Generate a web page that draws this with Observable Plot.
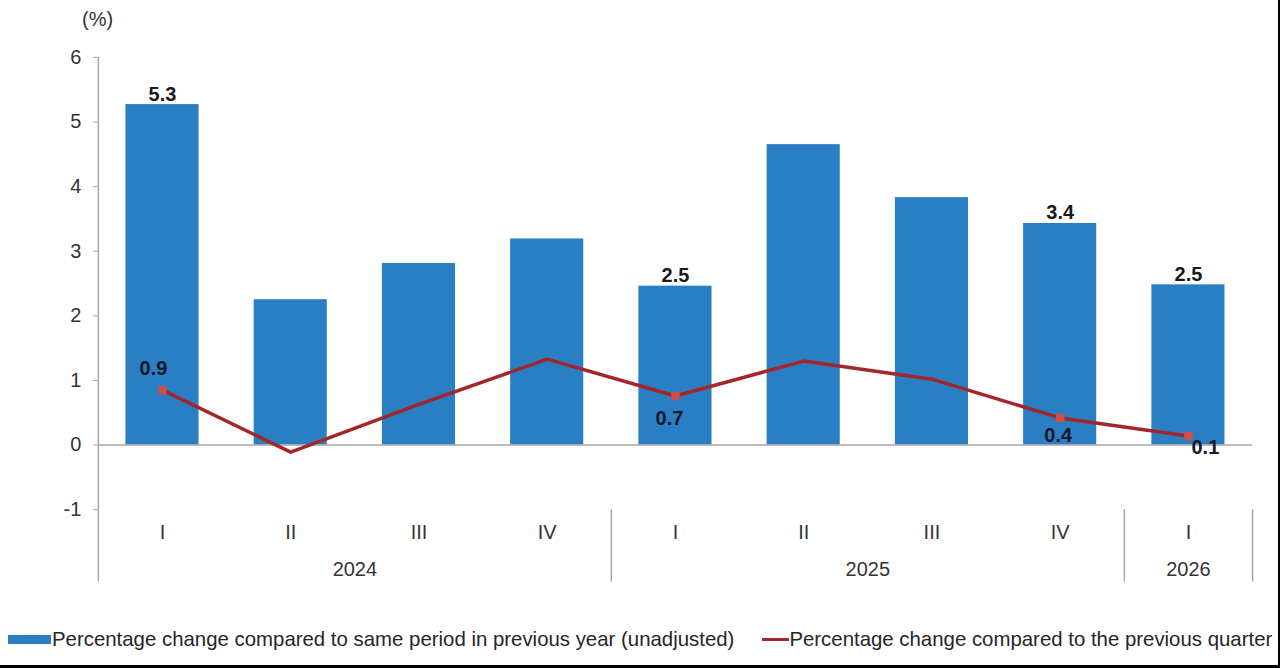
<!DOCTYPE html>
<html>
<head>
<meta charset="utf-8">
<script src="https://cdn.jsdelivr.net/npm/d3@7"></script>
<script src="https://cdn.jsdelivr.net/npm/@observablehq/plot@0.6"></script>
<style>
  html, body { margin: 0; padding: 0; background: #fff; }
  #frame { position: relative; width: 1280px; height: 668px; box-sizing: border-box; border-right: 2px solid #000; border-bottom: 3px solid #000; overflow: hidden; font-family: "Liberation Sans", Arial, sans-serif; }
  #chart { position: absolute; left: 0; top: 0; }
  #unit { position: absolute; left: 82px; top: 8px; font-size: 20px; color: #333; }
  #legend { position: absolute; left: 8px; top: 628px; font-size: 20.4px; color: #262626; display: flex; align-items: center; white-space: nowrap; }
  .sw-bar { display: inline-block; width: 43px; height: 9px; background: #2a7ec3; margin-right: 1px; }
  .sw-line { display: inline-block; width: 27px; height: 3px; background: #a3262b; margin-left: 28px; margin-right: 0px; }
</style>
</head>
<body>
<div id="frame">
  <div id="chart"></div>
  <div id="unit">(%)</div>
  <div id="legend"><span class="sw-bar"></span><span>Percentage change compared to same period in previous year (unadjusted)</span><span class="sw-line"></span><span>Percentage change compared to the previous quarter</span></div>
</div>
<script>
// Data
const quarters = ["I", "II", "III", "IV", "I", "II", "III", "IV", "I"];
const years = ["2024", "2024", "2024", "2024", "2025", "2025", "2025", "2025", "2026"];
const annualChange = [5.27, 2.25, 2.81, 3.19, 2.46, 4.65, 3.83, 3.43, 2.48];
const quarterlyChange = [0.85, -0.11, 0.63, 1.33, 0.76, 1.30, 1.02, 0.42, 0.14];
const annualLabels = ["5.3", null, null, null, "2.5", null, null, "3.4", "2.5"];
const quarterlyLabels = ["0.9", null, null, null, "0.7", null, null, "0.4", "0.1"];
const yTicks = [-1, 0, 1, 2, 3, 4, 5, 6];
const yearGroups = ["2024", "2025", "2026"];

const keys = quarters.map((q, i) => years[i] + " " + q);
const rows = keys.map((k, i) => ({
  key: k, q: quarters[i], year: years[i],
  annual: annualChange[i], quarterly: quarterlyChange[i],
  aLabel: annualLabels[i], qLabel: quarterlyLabels[i]
}));

const W = 1280, H = 610, ML = 98, MR = 26, MT = 57, MB = 100;
const step = (W - ML - MR) / keys.length;
const FS = 20;

const axisColor = "#a6a6a6";
const textColor = "#333333";
const lineColor = "#a3262b";
const markerColor = "#c9504b";
const barColor = "#2a7ec3";
const font = "Liberation Sans, Arial, sans-serif";

// year group labels, centered over their quarters
const yearMarks = yearGroups.map(y => {
  const idx = keys.map((k, i) => i).filter(i => years[i] === y);
  const mid = idx[Math.floor((idx.length - 1) / 2)];
  const dx = idx.length % 2 === 0 ? step / 2 : 0;
  return Plot.text([{ key: keys[mid], year: y }], { x: "key", y: -1, dy: 60, dx, text: "year", fill: textColor, fontSize: FS });
});
// separators at the start of each later year group, and after the last quarter
const sepKeys = yearGroups.slice(1).map(y => keys[years.indexOf(y)]);

const rowsA = rows.filter(d => d.aLabel);
const rowsQ = rows.filter(d => d.qLabel);
const qOffsets = { "2024 I": [-9, -22], "2025 I": [-6, 23], "2025 IV": [-2, 18], "2026 I": [17, 12] };
const qLabelMarks = rowsQ.map(d => Plot.text([d], {
  x: "key", y: "quarterly", text: "qLabel", fontWeight: "bold", fill: "#141a26", fontSize: FS,
  dx: qOffsets[d.key][0], dy: qOffsets[d.key][1]
}));

const plot = Plot.plot({
  width: W, height: H,
  marginLeft: ML, marginRight: MR, marginTop: MT, marginBottom: MB,
  style: { fontFamily: font, fontSize: FS + "px", color: textColor, background: "transparent" },
  x: { domain: keys, paddingInner: 0.43, paddingOuter: 0.215, round: false, axis: null },
  y: { domain: [-1, 6], axis: null },
  marks: [
    Plot.barY(rows, { x: "key", y: "annual", fill: barColor }),
    Plot.ruleY([0], { stroke: axisColor, strokeWidth: 1.5 }),
    // y axis
    Plot.axisY(yTicks, { anchor: "left", tickSize: 5, tickPadding: 12, stroke: axisColor, fill: textColor, fontSize: FS, label: null, tickFormat: d => String(d) }),
    Plot.ruleX([keys[0]], { dx: -step / 2, y1: 6, y2: -2.12, stroke: axisColor, strokeWidth: 1.5 }),
    // separators
    Plot.ruleX(sepKeys, { dx: -step / 2, y1: -1, y2: -2.12, stroke: axisColor, strokeWidth: 1.5 }),
    Plot.ruleX([keys[keys.length - 1]], { dx: step / 2, y1: -1, y2: -2.12, stroke: axisColor, strokeWidth: 1.5 }),
    // quarter and year labels
    Plot.text(rows, { x: "key", y: -1, dy: 23, text: "q", fill: textColor, fontSize: FS }),
    ...yearMarks,
    // line
    Plot.line(rows, { x: "key", y: "quarterly", stroke: lineColor, strokeWidth: 3.5 }),
    Plot.dot(rowsQ, { x: "key", y: "quarterly", symbol: "square", r: 4.8, fill: markerColor, stroke: "none" }),
    // bar labels
    Plot.text(rowsA, { x: "key", y: "annual", text: "aLabel", lineAnchor: "bottom", dy: -4, fontWeight: "bold", fill: "#1a1a1a", fontSize: FS }),
    // line labels
    ...qLabelMarks
  ]
});
document.getElementById("chart").appendChild(plot);
</script>
</body>
</html>
